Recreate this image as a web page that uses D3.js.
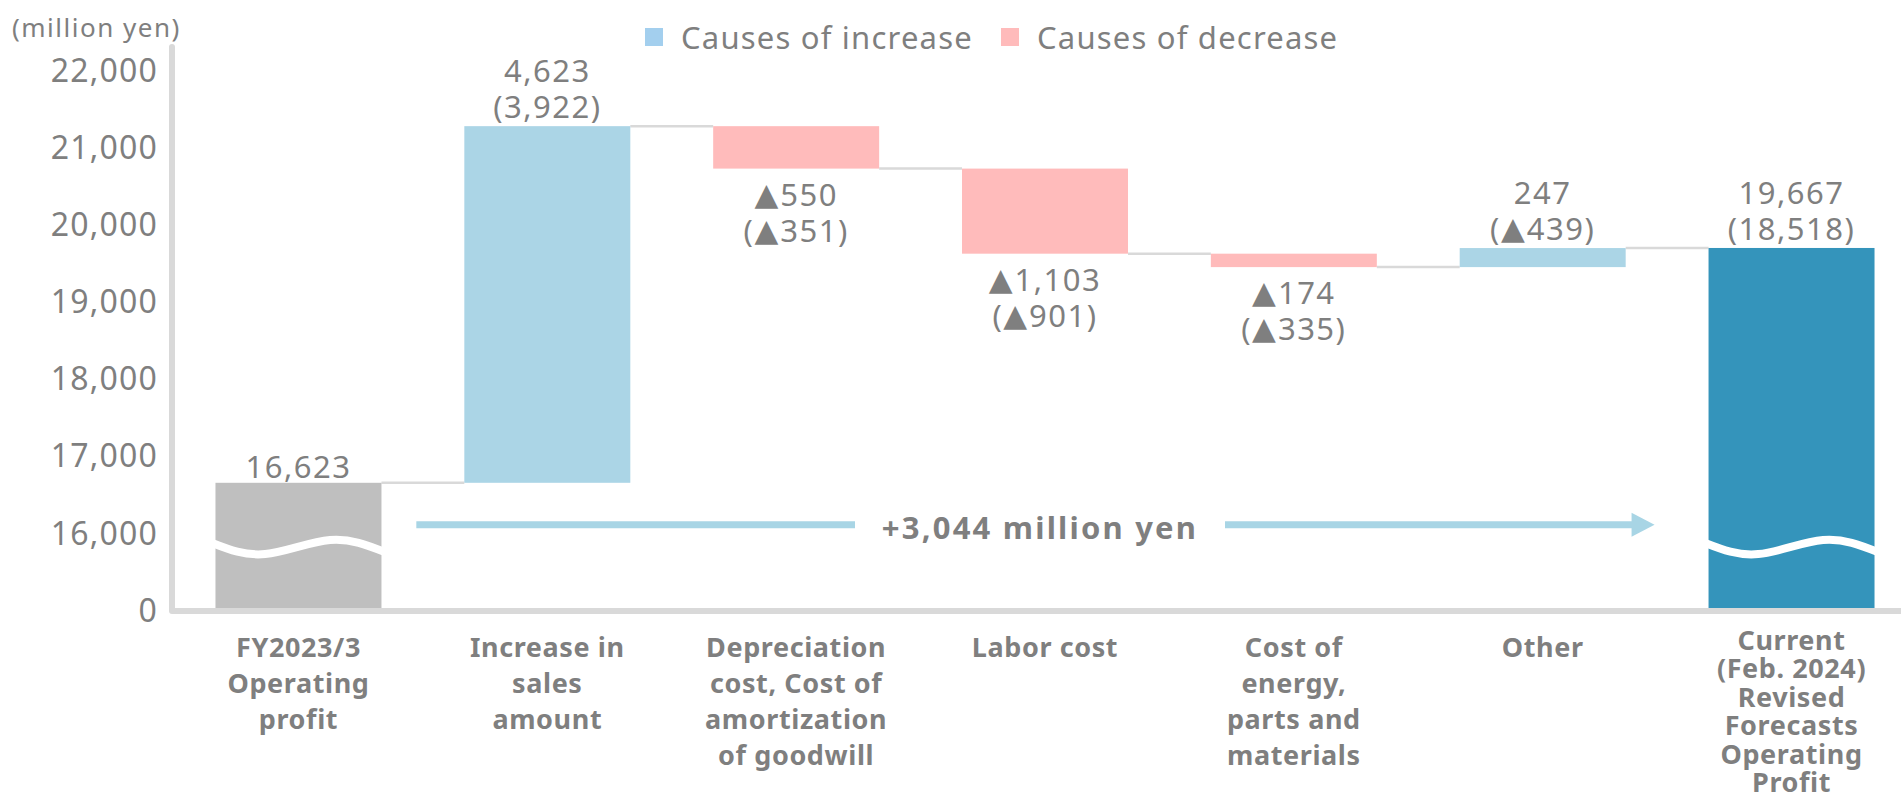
<!DOCTYPE html>
<html>
<head>
<meta charset="utf-8">
<script src="https://cdn.jsdelivr.net/npm/d3@7"></script>
<style>
  body { margin: 0; background: #fff; }
  text { font-family: "Noto Sans", sans-serif; fill: #7f7f7f; }
  .tri { font-family: "DejaVu Sans", sans-serif; }
</style>
</head>
<body>
<div id="chart"></div>
<script>
// chart data
var categories = [
  ["FY2023/3", "Operating", "profit"],
  ["Increase in", "sales", "amount"],
  ["Depreciation", "cost, Cost of", "amortization", "of goodwill"],
  ["Labor cost"],
  ["Cost of", "energy,", "parts and", "materials"],
  ["Other"],
  ["Current", "(Feb. 2024)", "Revised", "Forecasts", "Operating", "Profit"]
];
var kinds = ["start", "increase", "decrease", "decrease", "decrease", "increase", "end"];
var values = [16623, 4623, -550, -1103, -174, 247, 19667];
var prevValues = [null, 3922, -351, -901, -335, -439, 18518];
var yTicks = [15000, 16000, 17000, 18000, 19000, 20000, 21000, 22000];
var yTickLabels = ["0", "16,000", "17,000", "18,000", "19,000", "20,000", "21,000", "22,000"];
var legendLabels = ["Causes of increase", "Causes of decrease"];

var colors = {start: "#bfbfbf", increase: "#abd5e6", decrease: "#ffbbbb", end: "#3494bb"};

var width = 1901, height = 792;

var svg = d3.select("#chart")
  .append("svg")
    .attr("width", width)
    .attr("height", height);

var x = d3.scaleBand()
  .domain(d3.range(categories.length))
  .range([174, 1916])
  .paddingInner(0.333)
  .paddingOuter(0.1667);
var bw = x.bandwidth();

// broken axis: the lowest tick stands for 0
var y = d3.scaleLinear()
  .domain([15000, 22000])
  .range([608, 68]);

var fmt = d3.format(",");

// running totals for the waterfall
var steps = [], run = 0;
values.forEach(function(v, i) {
  if (kinds[i] === "start" || kinds[i] === "end") {
    steps.push({i: i, lo: 15000, hi: v, end: v});
    run = v;
  } else {
    steps.push({i: i, lo: Math.min(run, run + v), hi: Math.max(run, run + v), end: run + v});
    run += v;
  }
});

// y axis labels
var yAxis = svg.append("g")
  .attr("transform", "translate(158,3)")
  .call(d3.axisLeft(y).tickValues(yTicks).tickSize(0).tickPadding(0)
    .tickFormat(function(d, i) { return yTickLabels[i]; }));
yAxis.select(".domain").remove();
yAxis.selectAll("text")
  .style("font-family", "'Noto Sans', sans-serif")
  .style("font-size", "32px")
  .style("letter-spacing", "1.2px")
  .attr("fill", "#7f7f7f");

svg.append("text")
  .attr("x", 12).attr("y", 27)
  .attr("dominant-baseline", "central")
  .style("font-size", "26px")
  .style("letter-spacing", "1.5px")
  .text("(million yen)");

// connectors
svg.selectAll(".conn")
  .data(steps.slice(0, -1))
  .enter().append("line")
    .attr("x1", function(d) { return x(d.i) + bw; })
    .attr("x2", function(d) { return x(d.i + 1); })
    .attr("y1", function(d) { return y(d.end); })
    .attr("y2", function(d) { return y(d.end); })
    .attr("stroke", "#d9d9d9")
    .attr("stroke-width", 2.5);

// bars
svg.selectAll(".bar")
  .data(steps)
  .enter().append("rect")
    .attr("x", function(d) { return x(d.i); })
    .attr("y", function(d) { return y(d.hi); })
    .attr("width", bw)
    .attr("height", function(d) { return y(d.lo) - y(d.hi); })
    .attr("fill", function(d) { return colors[kinds[d.i]]; });

// wavy break on the two totals
var wave = d3.line().curve(d3.curveNatural);
[0, categories.length - 1].forEach(function(i) {
  var x0 = x(i), yc = y(15790);
  var pts = [[-0.02, -4], [0.3, 7], [0.69, -7], [1.02, 5]].map(function(p) {
    return [x0 + p[0] * bw, yc + p[1]];
  });
  svg.append("path")
    .attr("d", wave(pts))
    .attr("fill", "none")
    .attr("stroke", "#fff")
    .attr("stroke-width", 8);
});

// axis lines
svg.append("path")
  .attr("d", "M172,47 L172,611 L" + width + ",611")
  .attr("fill", "none")
  .attr("stroke", "#d9d9d9")
  .attr("stroke-width", 6)
  .attr("stroke-linejoin", "round")
  .attr("stroke-linecap", "round");

// value labels, negative numbers shown with a triangle
function addValue(t, v, paren) {
  if (paren) t.append("tspan").text("(");
  if (v < 0) {
    t.append("tspan").attr("class", "tri").style("letter-spacing", "2px").text("\u25B2");
  }
  t.append("tspan").text(fmt(Math.abs(v)));
  if (paren) t.append("tspan").text(")");
}

steps.forEach(function(d) {
  var cx = x(d.i) + bw / 2;
  var lines = [[values[d.i], false]];
  if (prevValues[d.i] !== null) lines.push([prevValues[d.i], true]);
  var ys;
  if (kinds[d.i] === "decrease") {
    ys = [y(d.lo) + 25, y(d.lo) + 61];
  } else if (lines.length === 1) {
    ys = [y(d.hi) - 17];
  } else {
    ys = [y(d.hi) - 56, y(d.hi) - 20];
  }
  lines.forEach(function(l, k) {
    var t = svg.append("text")
      .attr("x", cx).attr("y", ys[k])
      .attr("text-anchor", "middle")
      .attr("dominant-baseline", "central")
      .style("font-size", "31px")
      .style("letter-spacing", "1.5px");
    addValue(t, l[0], l[1]);
  });
});

// category labels
categories.forEach(function(lines, i) {
  var lh = lines.length > 4 ? 28.5 : 36;
  var top = lines.length > 4 ? 639 : 646;
  var t = svg.append("text")
    .attr("text-anchor", "middle")
    .style("font-size", "27px")
    .style("font-weight", "bold")
    .style("letter-spacing", "0.6px");
  lines.forEach(function(s, k) {
    t.append("tspan")
      .attr("x", x(i) + bw / 2)
      .attr("y", top + k * lh)
      .attr("dominant-baseline", "central")
      .text(s);
  });
});

// total change arrow
var total = values[values.length - 1] - values[0];
var arrowY = y(16080);
var ax0 = x(1) - 48, axTip = x(6) - 54;
var textX = x(3) + bw / 2 - 5, gap = 185;
var arrowColor = "#a8d5e5";
svg.append("line")
  .attr("x1", ax0).attr("x2", textX - gap)
  .attr("y1", arrowY).attr("y2", arrowY)
  .attr("stroke", arrowColor).attr("stroke-width", 7);
svg.append("line")
  .attr("x1", textX + gap).attr("x2", axTip - 22)
  .attr("y1", arrowY).attr("y2", arrowY)
  .attr("stroke", arrowColor).attr("stroke-width", 7);
svg.append("path")
  .attr("d", "M" + (axTip - 23) + "," + (arrowY - 12) + " L" + axTip + "," + arrowY +
             " L" + (axTip - 23) + "," + (arrowY + 12) + "Z")
  .attr("fill", arrowColor);
svg.append("text")
  .attr("x", textX).attr("y", arrowY + 2)
  .attr("text-anchor", "middle")
  .attr("dominant-baseline", "central")
  .style("font-size", "31px")
  .style("font-weight", "bold")
  .style("letter-spacing", "2.2px")
  .text("+" + fmt(total) + " million yen");

// legend
var legendX = [645, 1001];
var legendColors = [colors.increase, colors.decrease];
legendLabels.forEach(function(s, i) {
  svg.append("rect")
    .attr("x", legendX[i]).attr("y", 28)
    .attr("width", 18).attr("height", 18)
    .attr("fill", i === 0 ? "#a3cfee" : legendColors[i]);
  svg.append("text")
    .attr("x", legendX[i] + 36).attr("y", 37)
    .attr("dominant-baseline", "central")
    .style("font-size", "31px")
    .style("letter-spacing", "1.2px")
    .text(s);
});
</script>
</body>
</html>
